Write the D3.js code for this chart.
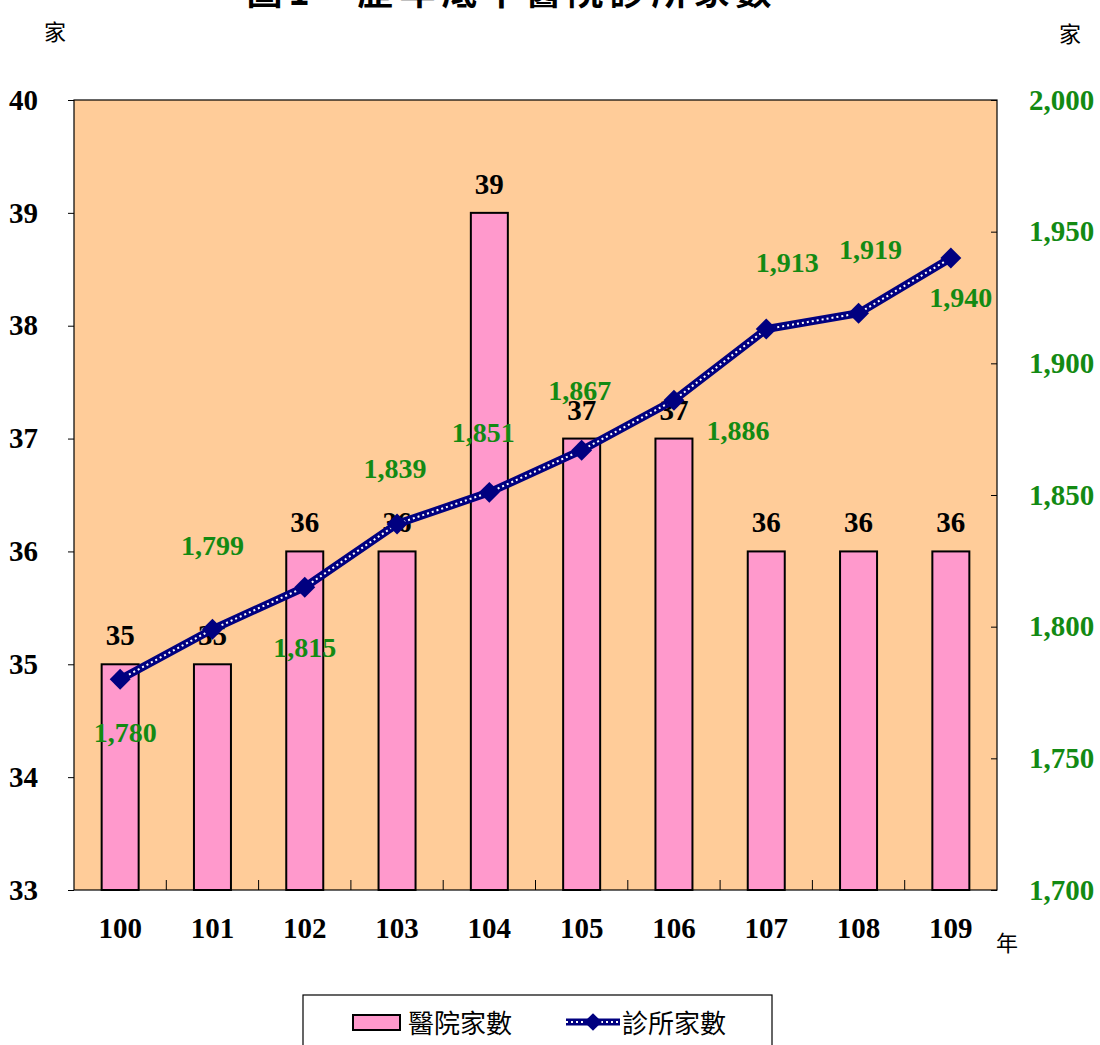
<!DOCTYPE html>
<html>
<head>
<meta charset="utf-8">
<script src="https://cdn.jsdelivr.net/npm/d3@7"></script>
<style>
  body { margin: 0; background: #fff; }
  svg { display: block; }
</style>
</head>
<body>
<svg id="chart" width="1100" height="1045"></svg>
<script>
// data
var years = ["100", "101", "102", "103", "104", "105", "106", "107", "108", "109"];
var hospitals = [35, 35, 36, 36, 39, 37, 37, 36, 36, 36];
var clinics = [1780, 1799, 1815, 1839, 1851, 1867, 1886, 1913, 1919, 1940];
var leftTicks = [33, 34, 35, 36, 37, 38, 39, 40];
var rightTicks = [1700, 1750, 1800, 1850, 1900, 1950, 2000];

// label placement for the clinic values (dx, dy from the point)
var clinicLabelPos = [[5, 63], [0, -74], [0, 70], [-2, -46], [-6, -50], [-2, -50],
    [64, 40], [21, -57], [12, -54], [10, 49]];

var serif = "'Liberation Serif', 'Times New Roman', serif";
var cjk = "'Noto Sans CJK TC', 'Noto Sans CJK SC', sans-serif";
var green = "#138a13";

var svg = d3.select("#chart");
var m = { left: 74, right: 997, top: 100, bottom: 890 };

var x = d3.scaleBand().domain(years).range([m.left, m.right]);
var yL = d3.scaleLinear().domain([33, 40]).range([m.bottom, m.top]);
var yR = d3.scaleLinear().domain([1700, 2000]).range([m.bottom, m.top]);

// title (cut off at the top, as in the picture)
svg.append("text")
    .attr("x", 512).attr("y", 5)
    .attr("text-anchor", "middle")
    .style("font-family", cjk).style("font-size", "36px").style("font-weight", "bold")
    .style("letter-spacing", "6px")
    .text("圖1　歷年底中醫院診所家數");

// plot background
svg.append("rect")
    .attr("x", m.left).attr("y", m.top)
    .attr("width", m.right - m.left).attr("height", m.bottom - m.top)
    .attr("fill", "#FFCC99");

// bars
var bw = 37;
svg.selectAll(".bar").data(hospitals).enter().append("rect")
    .attr("class", "bar")
    .attr("x", (d, i) => x(years[i]) + x.bandwidth() / 2 - bw / 2)
    .attr("y", d => yL(d))
    .attr("width", bw)
    .attr("height", d => m.bottom - yL(d))
    .attr("fill", "#FF99CC")
    .attr("stroke", "#000").attr("stroke-width", 2);

// plot border
svg.append("rect")
    .attr("x", m.left).attr("y", m.top)
    .attr("width", m.right - m.left).attr("height", m.bottom - m.top)
    .attr("fill", "none").attr("stroke", "#000").attr("stroke-width", 1.2);

// left axis
var gL = svg.append("g").attr("transform", "translate(" + m.left + ",0)")
    .call(d3.axisLeft(yL).tickValues(leftTicks).tickSize(6).tickPadding(30).tickFormat(d3.format("d")));
gL.select(".domain").remove();
gL.selectAll("text").style("font-family", serif).style("font-size", "29px").style("font-weight", "bold")
    .attr("fill", "#000");

// right axis
var gR = svg.append("g").attr("transform", "translate(" + m.right + ",0)")
    .call(d3.axisRight(yR).tickValues(rightTicks).tickSize(-6).tickPadding(32).tickFormat(d3.format(",")));
gR.select(".domain").remove();
gR.selectAll("text").style("font-family", serif).style("font-size", "29px").style("font-weight", "bold")
    .attr("fill", green);

// bottom category dividers
svg.selectAll(".div").data(years.slice(1)).enter().append("line")
    .attr("x1", d => x(d)).attr("x2", d => x(d))
    .attr("y1", m.bottom).attr("y2", m.bottom - 10)
    .attr("stroke", "#000").attr("stroke-width", 1);

// bottom labels
svg.selectAll(".xl").data(years).enter().append("text")
    .attr("x", d => x(d) + x.bandwidth() / 2)
    .attr("y", 938)
    .attr("text-anchor", "middle")
    .style("font-family", serif).style("font-size", "29px").style("font-weight", "bold")
    .text(d => d);

// unit labels
svg.append("text").attr("x", 55).attr("y", 40).attr("text-anchor", "middle")
    .style("font-family", cjk).style("font-size", "22px").text("家");
svg.append("text").attr("x", 1070).attr("y", 42).attr("text-anchor", "middle")
    .style("font-family", cjk).style("font-size", "22px").text("家");
svg.append("text").attr("x", 1007).attr("y", 951).attr("text-anchor", "middle")
    .style("font-family", cjk).style("font-size", "22px").text("年");

// bar value labels
svg.selectAll(".bl").data(hospitals).enter().append("text")
    .attr("x", (d, i) => x(years[i]) + x.bandwidth() / 2)
    .attr("y", d => yL(d) - 19)
    .attr("text-anchor", "middle")
    .style("font-family", serif).style("font-size", "29px").style("font-weight", "bold")
    .text(d => d);

// clinic line
var pts = clinics.map((d, i) => [x(years[i]) + x.bandwidth() / 2, yR(d)]);
var line = d3.line();
svg.append("path").attr("d", line(pts))
    .attr("fill", "none").attr("stroke", "#000080").attr("stroke-width", 8);
svg.append("path").attr("d", line(pts))
    .attr("fill", "none").attr("stroke", "#fff").attr("stroke-width", 2)
    .attr("stroke-dasharray", "2,3");

var diamond = d3.symbol().type(d3.symbolDiamond2).size(280);
svg.selectAll(".mk").data(pts).enter().append("path")
    .attr("d", diamond)
    .attr("transform", d => "translate(" + d[0] + "," + d[1] + ")")
    .attr("fill", "#000080");

// clinic value labels
svg.selectAll(".cl").data(clinics).enter().append("text")
    .attr("x", (d, i) => pts[i][0] + clinicLabelPos[i][0])
    .attr("y", (d, i) => pts[i][1] + clinicLabelPos[i][1])
    .attr("text-anchor", "middle")
    .style("font-family", serif).style("font-size", "28px").style("font-weight", "bold")
    .attr("fill", green)
    .text(d => d3.format(",")(d));

// legend
var lg = svg.append("g");
lg.append("rect").attr("x", 303).attr("y", 995).attr("width", 469).attr("height", 60)
    .attr("fill", "#fff").attr("stroke", "#000").attr("stroke-width", 1.2);
lg.append("rect").attr("x", 353).attr("y", 1015).attr("width", 47).attr("height", 15)
    .attr("fill", "#FF99CC").attr("stroke", "#000").attr("stroke-width", 2);
lg.append("text").attr("x", 408).attr("y", 1033)
    .style("font-family", cjk).style("font-size", "26px").text("醫院家數");
var lp = [[566, 1022], [620, 1022]];
lg.append("path").attr("d", line(lp)).attr("stroke", "#000080").attr("stroke-width", 7).attr("fill", "none");
lg.append("path").attr("d", line(lp)).attr("stroke", "#fff").attr("stroke-width", 2)
    .attr("stroke-dasharray", "2,3").attr("fill", "none");
lg.append("path").attr("d", d3.symbol().type(d3.symbolDiamond2).size(200))
    .attr("transform", "translate(593,1022)").attr("fill", "#000080");
lg.append("text").attr("x", 622).attr("y", 1033)
    .style("font-family", cjk).style("font-size", "26px").text("診所家數");
</script>
</body>
</html>
